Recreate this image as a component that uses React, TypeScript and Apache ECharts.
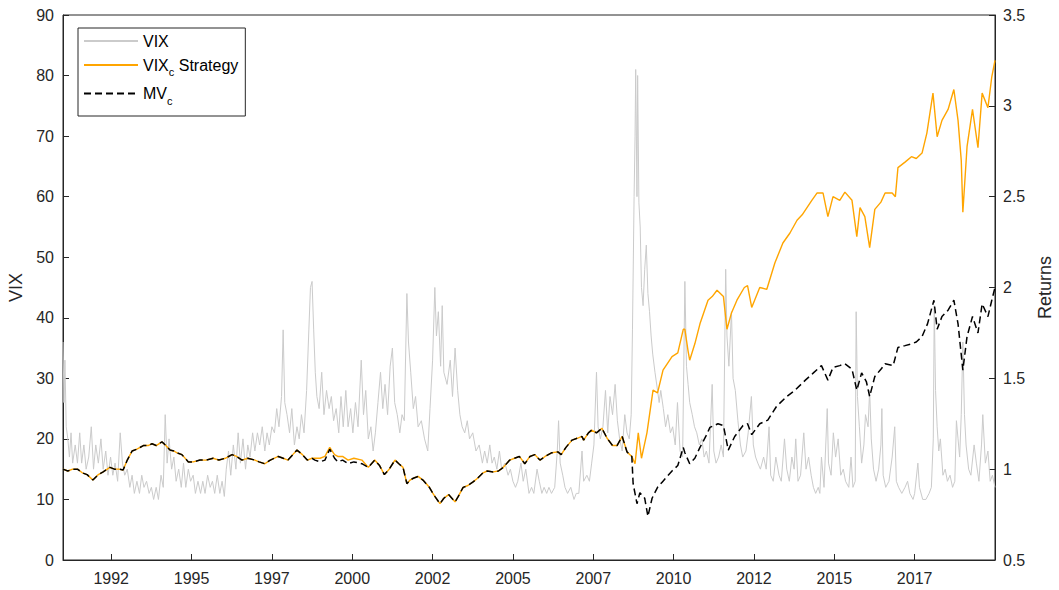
import React, { useEffect, useRef } from "react";
import * as echarts from "echarts";

// x tick positions (decimal years) and their labels
const xTickPositions = [1992.5, 1995, 1997.5, 2000, 2002.5, 2005, 2007.5, 2010, 2012.5, 2015, 2017.5];
const xTickLabels = ["1992", "1995", "1997", "2000", "2002", "2005", "2007", "2010", "2012", "2015", "2017"];

// VIX level [decimal year, value]
const vixSeries: [number, number][] = [
  [1991.0, 36], [1991.03, 26], [1991.06, 33], [1991.1, 22], [1991.15, 20], [1991.2, 17], [1991.25, 21], [1991.3, 16],
  [1991.38, 19], [1991.45, 16], [1991.52, 21], [1991.58, 16], [1991.65, 19], [1991.72, 15], [1991.8, 17], [1991.88, 22],
  [1991.95, 15], [1992.02, 19], [1992.1, 16], [1992.18, 20], [1992.25, 15], [1992.33, 18], [1992.4, 14], [1992.48, 17],
  [1992.55, 14], [1992.62, 16], [1992.7, 13], [1992.78, 21], [1992.85, 16], [1992.92, 14], [1993.0, 15], [1993.08, 12],
  [1993.15, 14], [1993.22, 11], [1993.3, 13], [1993.38, 11], [1993.45, 14], [1993.52, 12], [1993.6, 13], [1993.68, 11],
  [1993.75, 12], [1993.82, 10], [1993.9, 12], [1993.97, 10], [1994.05, 14], [1994.12, 12], [1994.18, 24], [1994.24, 16],
  [1994.3, 20], [1994.38, 15], [1994.45, 17], [1994.52, 13], [1994.6, 15], [1994.68, 12], [1994.75, 16], [1994.82, 12],
  [1994.9, 15], [1994.97, 13], [1995.05, 14], [1995.12, 11], [1995.2, 13], [1995.28, 11], [1995.35, 13], [1995.42, 11],
  [1995.5, 14], [1995.58, 12], [1995.65, 13], [1995.72, 11], [1995.8, 14], [1995.88, 11], [1995.95, 13], [1996.02, 10.5],
  [1996.08, 15], [1996.15, 18], [1996.22, 14], [1996.3, 19], [1996.38, 15], [1996.45, 21], [1996.52, 16], [1996.6, 20],
  [1996.68, 15], [1996.75, 19], [1996.82, 17], [1996.9, 21], [1996.97, 18], [1997.05, 21], [1997.12, 19], [1997.2, 22],
  [1997.28, 18], [1997.35, 21], [1997.42, 19], [1997.5, 22], [1997.58, 21], [1997.65, 25], [1997.72, 22], [1997.8, 27],
  [1997.85, 38], [1997.9, 26], [1997.97, 24], [1998.05, 21], [1998.12, 25], [1998.2, 19], [1998.28, 22], [1998.35, 20],
  [1998.42, 24], [1998.5, 21], [1998.58, 28], [1998.65, 38], [1998.7, 45], [1998.75, 46], [1998.8, 38], [1998.85, 31],
  [1998.9, 27], [1998.97, 25], [1999.05, 31], [1999.12, 24], [1999.2, 28], [1999.28, 25], [1999.35, 27], [1999.42, 23],
  [1999.5, 25], [1999.58, 21], [1999.65, 27], [1999.72, 22], [1999.8, 28], [1999.87, 22], [1999.95, 25], [2000.02, 21],
  [2000.1, 26], [2000.18, 22], [2000.28, 33], [2000.35, 24], [2000.42, 28], [2000.5, 20], [2000.58, 22], [2000.65, 18],
  [2000.72, 21], [2000.8, 26], [2000.88, 31], [2000.95, 25], [2001.02, 29], [2001.1, 24], [2001.18, 32], [2001.25, 35],
  [2001.32, 26], [2001.4, 24], [2001.48, 21], [2001.55, 24], [2001.62, 23], [2001.7, 44], [2001.75, 36], [2001.82, 31],
  [2001.9, 25], [2001.97, 27], [2002.05, 22], [2002.15, 23], [2002.25, 20], [2002.35, 18], [2002.42, 25], [2002.5, 33],
  [2002.57, 45], [2002.62, 37], [2002.68, 41], [2002.75, 32], [2002.8, 42], [2002.85, 31], [2002.95, 29], [2003.05, 33],
  [2003.12, 27], [2003.2, 35], [2003.28, 28], [2003.35, 24], [2003.42, 22], [2003.5, 21], [2003.58, 23], [2003.65, 20],
  [2003.75, 21], [2003.85, 18], [2003.95, 19], [2004.05, 16], [2004.12, 18], [2004.2, 16], [2004.28, 19], [2004.35, 16],
  [2004.42, 17], [2004.5, 15], [2004.58, 18], [2004.65, 15], [2004.75, 16], [2004.85, 14], [2004.92, 15], [2005.0, 13],
  [2005.08, 12], [2005.15, 13], [2005.25, 16], [2005.32, 13], [2005.4, 15], [2005.5, 11], [2005.58, 12], [2005.65, 11],
  [2005.75, 15], [2005.82, 13], [2005.9, 11], [2005.97, 12], [2006.05, 11], [2006.12, 12], [2006.2, 11], [2006.3, 12],
  [2006.38, 18], [2006.42, 23], [2006.47, 16], [2006.55, 14], [2006.62, 12], [2006.7, 11], [2006.8, 12], [2006.9, 10],
  [2006.97, 11], [2007.05, 11], [2007.15, 18], [2007.2, 13], [2007.3, 14], [2007.38, 13], [2007.45, 16], [2007.52, 19],
  [2007.6, 31], [2007.65, 22], [2007.72, 20], [2007.8, 22], [2007.88, 28], [2007.95, 21], [2008.02, 27], [2008.1, 24],
  [2008.18, 29], [2008.25, 23], [2008.32, 20], [2008.4, 18], [2008.48, 24], [2008.55, 21], [2008.62, 20], [2008.68, 24],
  [2008.72, 38], [2008.77, 60], [2008.8, 70], [2008.82, 81], [2008.86, 60], [2008.88, 80], [2008.92, 59], [2008.96, 55],
  [2009.0, 45], [2009.05, 42], [2009.1, 48], [2009.15, 52], [2009.2, 44], [2009.25, 41], [2009.3, 37], [2009.35, 34],
  [2009.42, 31], [2009.5, 28], [2009.55, 26], [2009.6, 28], [2009.68, 25], [2009.75, 22], [2009.82, 24], [2009.9, 21],
  [2009.97, 22], [2010.05, 19], [2010.12, 26], [2010.2, 18], [2010.28, 17], [2010.35, 46], [2010.4, 32], [2010.45, 29],
  [2010.5, 26], [2010.58, 24], [2010.65, 22], [2010.72, 21], [2010.8, 19], [2010.88, 20], [2010.95, 17], [2011.02, 18],
  [2011.1, 16], [2011.2, 29], [2011.25, 18], [2011.32, 16], [2011.4, 17], [2011.48, 19], [2011.55, 17], [2011.62, 48],
  [2011.66, 37], [2011.72, 32], [2011.8, 41], [2011.85, 30], [2011.92, 28], [2012.0, 23], [2012.08, 19], [2012.15, 17],
  [2012.25, 18], [2012.32, 21], [2012.42, 27], [2012.48, 19], [2012.55, 17], [2012.62, 16], [2012.7, 15], [2012.8, 17],
  [2012.88, 15], [2012.97, 22], [2013.02, 14], [2013.1, 13], [2013.18, 17], [2013.28, 14], [2013.35, 13], [2013.45, 20],
  [2013.52, 15], [2013.6, 13], [2013.68, 17], [2013.75, 15], [2013.8, 20], [2013.87, 13], [2013.95, 14], [2014.05, 21],
  [2014.12, 15], [2014.2, 17], [2014.28, 14], [2014.35, 12], [2014.42, 11], [2014.5, 12], [2014.55, 11], [2014.6, 17],
  [2014.68, 12], [2014.78, 25], [2014.82, 16], [2014.9, 14], [2014.97, 21], [2015.04, 17], [2015.12, 20], [2015.2, 14],
  [2015.28, 15], [2015.35, 13], [2015.45, 12], [2015.52, 17], [2015.58, 12], [2015.65, 13], [2015.68, 41], [2015.72, 27],
  [2015.78, 22], [2015.85, 16], [2015.92, 19], [2015.97, 24], [2016.05, 22], [2016.1, 28], [2016.15, 20], [2016.22, 15],
  [2016.3, 13], [2016.38, 15], [2016.45, 19], [2016.48, 25], [2016.52, 14], [2016.6, 12], [2016.7, 13], [2016.8, 17],
  [2016.88, 22], [2016.93, 13], [2017.0, 12], [2017.1, 11], [2017.2, 12], [2017.28, 13], [2017.35, 11], [2017.45, 10],
  [2017.5, 11], [2017.6, 16], [2017.65, 12], [2017.75, 10], [2017.85, 10], [2017.95, 11], [2018.02, 12], [2018.08, 20],
  [2018.11, 42], [2018.15, 28], [2018.2, 22], [2018.25, 18], [2018.3, 20], [2018.38, 14], [2018.45, 15], [2018.52, 13],
  [2018.6, 14], [2018.68, 12], [2018.75, 13], [2018.8, 23], [2018.85, 20], [2018.9, 17], [2018.95, 24], [2019.0, 36],
  [2019.05, 24], [2019.1, 19], [2019.18, 15], [2019.25, 14], [2019.35, 19], [2019.42, 16], [2019.5, 13], [2019.58, 19],
  [2019.62, 24], [2019.7, 16], [2019.78, 18], [2019.85, 13], [2019.92, 14], [2020.0, 12],
];

// VIXc strategy cumulative return [decimal year, value]
const vixcStrategy: [number, number][] = [
  [1991.0, 1.0], [1991.15, 0.99], [1991.3, 1.0], [1991.45, 1.0], [1991.6, 0.98], [1991.75, 0.97], [1991.93, 0.94],
  [1992.1, 0.97], [1992.25, 0.985], [1992.46, 1.01], [1992.6, 1.0], [1992.75, 1.0], [1992.87, 0.995], [1993.0, 1.05],
  [1993.15, 1.1], [1993.3, 1.11], [1993.5, 1.13], [1993.65, 1.13], [1993.77, 1.14], [1993.9, 1.13], [1994.08, 1.15],
  [1994.2, 1.13], [1994.33, 1.105], [1994.45, 1.1], [1994.55, 1.09], [1994.7, 1.08], [1994.9, 1.04], [1995.05, 1.04],
  [1995.26, 1.05], [1995.45, 1.05], [1995.67, 1.06], [1995.85, 1.05], [1996.05, 1.06], [1996.26, 1.08], [1996.4, 1.07],
  [1996.57, 1.05], [1996.75, 1.06], [1996.97, 1.05], [1997.1, 1.04], [1997.28, 1.03], [1997.45, 1.05], [1997.7, 1.07],
  [1997.85, 1.06], [1998.0, 1.05], [1998.15, 1.08], [1998.28, 1.105], [1998.45, 1.08], [1998.6, 1.05], [1998.75, 1.06],
  [1998.84, 1.06], [1999.0, 1.06], [1999.15, 1.07], [1999.3, 1.12], [1999.45, 1.08], [1999.55, 1.07], [1999.7, 1.07],
  [1999.87, 1.05], [2000.05, 1.06], [2000.3, 1.05], [2000.5, 1.01], [2000.7, 1.05], [2000.85, 1.02], [2001.0, 0.97],
  [2001.15, 1.0], [2001.33, 1.05], [2001.45, 1.03], [2001.58, 1.01], [2001.7, 0.92], [2001.8, 0.94], [2001.9, 0.95],
  [2002.05, 0.96], [2002.2, 0.94], [2002.4, 0.9], [2002.5, 0.87], [2002.57, 0.85], [2002.65, 0.83], [2002.73, 0.81],
  [2002.85, 0.84], [2003.0, 0.86], [2003.1, 0.84], [2003.2, 0.82], [2003.3, 0.85], [2003.45, 0.9], [2003.6, 0.91],
  [2003.76, 0.93], [2003.9, 0.95], [2004.07, 0.98], [2004.2, 0.99], [2004.38, 0.985], [2004.55, 0.99], [2004.7, 1.01],
  [2004.9, 1.05], [2005.05, 1.06], [2005.2, 1.07], [2005.37, 1.03], [2005.53, 1.07], [2005.68, 1.08], [2005.84, 1.05],
  [2006.0, 1.07], [2006.2, 1.09], [2006.4, 1.095], [2006.5, 1.08], [2006.65, 1.12], [2006.84, 1.16], [2007.0, 1.17],
  [2007.15, 1.18], [2007.2, 1.16], [2007.35, 1.2], [2007.45, 1.215], [2007.6, 1.2], [2007.77, 1.225], [2007.93, 1.17],
  [2008.1, 1.13], [2008.24, 1.13], [2008.4, 1.18], [2008.55, 1.095], [2008.7, 1.07], [2008.8, 1.03], [2008.9, 1.2],
  [2009.0, 1.06], [2009.17, 1.2], [2009.36, 1.435], [2009.5, 1.42], [2009.67, 1.545], [2009.8, 1.58], [2009.95, 1.62],
  [2010.13, 1.64], [2010.3, 1.77], [2010.35, 1.77], [2010.45, 1.65], [2010.5, 1.6], [2010.66, 1.69], [2010.82, 1.8],
  [2011.07, 1.93], [2011.2, 1.95], [2011.35, 1.985], [2011.55, 1.95], [2011.66, 1.77], [2011.8, 1.86], [2011.97, 1.93],
  [2012.2, 2.0], [2012.3, 2.01], [2012.43, 1.89], [2012.68, 2.0], [2012.9, 1.99], [2013.15, 2.135], [2013.4, 2.245],
  [2013.62, 2.3], [2013.84, 2.37], [2014.0, 2.4], [2014.15, 2.44], [2014.3, 2.48], [2014.46, 2.52], [2014.65, 2.52],
  [2014.8, 2.39], [2014.96, 2.5], [2015.17, 2.48], [2015.33, 2.525], [2015.55, 2.48], [2015.7, 2.28], [2015.8, 2.44],
  [2015.95, 2.39], [2016.1, 2.22], [2016.26, 2.43], [2016.45, 2.47], [2016.58, 2.52], [2016.8, 2.52], [2016.9, 2.5],
  [2016.98, 2.66], [2017.2, 2.69], [2017.4, 2.72], [2017.55, 2.71], [2017.73, 2.74], [2017.88, 2.85], [2018.07, 3.07],
  [2018.2, 2.83], [2018.35, 2.92], [2018.54, 2.98], [2018.72, 3.09], [2018.85, 2.92], [2018.95, 2.7], [2019.0, 2.415],
  [2019.13, 2.775], [2019.3, 2.98], [2019.47, 2.77], [2019.6, 3.07], [2019.78, 2.99], [2019.9, 3.16], [2020.0, 3.25],
];

// MVc cumulative return [decimal year, value]
const mvcStrategy: [number, number][] = [
  [1991.0, 1.0], [1991.15, 0.99], [1991.3, 1.0], [1991.45, 1.0], [1991.6, 0.98], [1991.75, 0.97], [1991.93, 0.94],
  [1992.1, 0.97], [1992.25, 0.985], [1992.46, 1.01], [1992.6, 1.0], [1992.75, 1.0], [1992.87, 0.995], [1993.0, 1.05],
  [1993.15, 1.1], [1993.3, 1.11], [1993.5, 1.13], [1993.65, 1.13], [1993.77, 1.14], [1993.9, 1.13], [1994.08, 1.15],
  [1994.2, 1.13], [1994.33, 1.105], [1994.45, 1.1], [1994.55, 1.09], [1994.7, 1.08], [1994.9, 1.04], [1995.05, 1.04],
  [1995.26, 1.05], [1995.45, 1.05], [1995.67, 1.06], [1995.85, 1.05], [1996.05, 1.06], [1996.26, 1.08], [1996.4, 1.07],
  [1996.57, 1.05], [1996.75, 1.06], [1996.97, 1.05], [1997.1, 1.04], [1997.28, 1.03], [1997.45, 1.05], [1997.7, 1.07],
  [1997.85, 1.06], [1998.0, 1.05], [1998.15, 1.08], [1998.28, 1.105], [1998.45, 1.08], [1998.6, 1.05], [1998.75, 1.06],
  [1998.84, 1.05], [1999.0, 1.04], [1999.15, 1.05], [1999.3, 1.11], [1999.45, 1.06], [1999.55, 1.04], [1999.7, 1.05],
  [1999.87, 1.03], [2000.05, 1.04], [2000.3, 1.03], [2000.5, 1.01], [2000.7, 1.05], [2000.85, 1.02], [2001.0, 0.97],
  [2001.15, 1.0], [2001.33, 1.05], [2001.45, 1.03], [2001.58, 1.01], [2001.7, 0.92], [2001.8, 0.94], [2001.9, 0.95],
  [2002.05, 0.96], [2002.2, 0.94], [2002.4, 0.9], [2002.5, 0.87], [2002.57, 0.85], [2002.65, 0.83], [2002.73, 0.81],
  [2002.85, 0.84], [2003.0, 0.86], [2003.1, 0.84], [2003.2, 0.82], [2003.3, 0.85], [2003.45, 0.9], [2003.6, 0.91],
  [2003.76, 0.93], [2003.9, 0.95], [2004.07, 0.98], [2004.2, 0.99], [2004.38, 0.985], [2004.55, 0.99], [2004.7, 1.01],
  [2004.9, 1.05], [2005.05, 1.06], [2005.2, 1.07], [2005.37, 1.03], [2005.53, 1.07], [2005.68, 1.08], [2005.84, 1.05],
  [2006.0, 1.07], [2006.2, 1.09], [2006.4, 1.095], [2006.5, 1.08], [2006.65, 1.12], [2006.84, 1.16], [2007.0, 1.17],
  [2007.15, 1.18], [2007.2, 1.16], [2007.35, 1.2], [2007.45, 1.215], [2007.6, 1.2], [2007.77, 1.225], [2007.93, 1.17],
  [2008.1, 1.13], [2008.24, 1.13], [2008.4, 1.18], [2008.55, 1.095], [2008.7, 1.07], [2008.74, 0.92], [2008.86, 0.81],
  [2008.95, 0.87], [2009.1, 0.84], [2009.2, 0.74], [2009.33, 0.84], [2009.5, 0.9], [2009.65, 0.93], [2009.8, 0.96],
  [2009.95, 0.99], [2010.13, 1.02], [2010.3, 1.12], [2010.35, 1.09], [2010.5, 1.03], [2010.66, 1.06], [2010.82, 1.12],
  [2011.0, 1.18], [2011.13, 1.23], [2011.38, 1.25], [2011.55, 1.24], [2011.7, 1.105], [2011.9, 1.18], [2012.16, 1.24],
  [2012.3, 1.25], [2012.43, 1.19], [2012.68, 1.25], [2012.93, 1.27], [2013.2, 1.345], [2013.52, 1.4], [2013.78, 1.435],
  [2014.1, 1.49], [2014.35, 1.53], [2014.6, 1.57], [2014.8, 1.49], [2014.96, 1.56], [2015.17, 1.57], [2015.33, 1.58],
  [2015.55, 1.55], [2015.7, 1.435], [2015.85, 1.53], [2016.0, 1.48], [2016.1, 1.4], [2016.26, 1.51], [2016.45, 1.55],
  [2016.58, 1.58], [2016.83, 1.57], [2016.98, 1.67], [2017.2, 1.68], [2017.4, 1.69], [2017.55, 1.7], [2017.73, 1.73],
  [2017.9, 1.8], [2018.1, 1.93], [2018.2, 1.77], [2018.35, 1.84], [2018.54, 1.875], [2018.72, 1.93], [2018.85, 1.8],
  [2019.0, 1.545], [2019.13, 1.73], [2019.3, 1.84], [2019.47, 1.75], [2019.6, 1.91], [2019.78, 1.84], [2019.9, 1.93],
  [2020.0, 2.0],
];

const FONT = "'Liberation Sans', Arial, Helvetica, sans-serif";
const AXIS_COLOR = "#262626";

export default function App() {
  const ref = useRef<HTMLDivElement | null>(null);

  useEffect(() => {
    if (!ref.current) return;
    const chart = echarts.init(ref.current, null, { renderer: "svg" });
    const legendFormatter = (name: string) => {
      if (name === "VIXc Strategy") return "{n|VIX}{s|c}{n| Strategy}";
      if (name === "MVc") return "{n|MV}{s|c}";
      return "{n|" + name + "}";
    };
    chart.setOption({
      animation: false,
      backgroundColor: "#ffffff",
      textStyle: { fontFamily: FONT },
      grid: {
        left: 63,
        right: 64,
        top: 15,
        bottom: 30,
        containLabel: false,
        outerBoundsMode: "none",
        show: true,
        borderColor: AXIS_COLOR,
        borderWidth: 1,
        backgroundColor: "transparent",
      },
      legend: {
        orient: "vertical",
        left: 78,
        top: 28,
        padding: [5, 7, 10, 5],
        itemWidth: 54,
        itemHeight: 12,
        itemGap: 8,
        borderColor: AXIS_COLOR,
        borderWidth: 1,
        backgroundColor: "#ffffff",
        itemStyle: { opacity: 0 },
        formatter: legendFormatter,
        textStyle: {
          fontFamily: FONT,
          color: "#000",
          rich: {
            n: { fontSize: 16, fontFamily: FONT, color: "#000" },
            s: { fontSize: 11, fontFamily: FONT, color: "#000", padding: [14, 0, 0, 0] },
          },
        },
        data: ["VIX", "VIXc Strategy", "MVc"],
      },
      xAxis: {
        type: "value",
        min: 1991,
        max: 2020,
        axisLine: { show: true, lineStyle: { color: AXIS_COLOR } },
        axisTick: {
          show: true,
          inside: true,
          length: 6,
          customValues: xTickPositions,
          lineStyle: { color: AXIS_COLOR },
        },
        axisLabel: {
          customValues: xTickPositions,
          margin: 10,
          fontSize: 16,
          color: AXIS_COLOR,
          fontFamily: FONT,
          formatter: (v: number) => {
            const i = xTickPositions.findIndex((p) => Math.abs(p - v) < 1e-6);
            return i >= 0 ? xTickLabels[i] : "";
          },
        },
        splitLine: { show: false },
      },
      yAxis: [
        {
          type: "value",
          position: "left",
          min: 0,
          max: 90,
          interval: 10,
          name: "VIX",
          nameLocation: "middle",
          nameGap: 36,
          nameTextStyle: { fontSize: 18, color: AXIS_COLOR, fontFamily: FONT },
          axisLine: { show: true, lineStyle: { color: AXIS_COLOR } },
          axisTick: { show: true, inside: true, length: 6, lineStyle: { color: AXIS_COLOR } },
          axisLabel: { margin: 9, fontSize: 16, color: AXIS_COLOR, fontFamily: FONT },
          splitLine: { show: false },
        },
        {
          type: "value",
          position: "right",
          min: 0.5,
          max: 3.5,
          interval: 0.5,
          name: "Returns",
          nameLocation: "middle",
          nameRotate: 90,
          nameGap: 41,
          nameTextStyle: { fontSize: 18, color: AXIS_COLOR, fontFamily: FONT },
          axisLine: { show: true, lineStyle: { color: AXIS_COLOR } },
          axisTick: { show: true, inside: true, length: 6, lineStyle: { color: AXIS_COLOR } },
          axisLabel: { margin: 8, fontSize: 16, color: AXIS_COLOR, fontFamily: FONT },
          splitLine: { show: false },
        },
      ],
      series: [
        {
          name: "VIX",
          type: "line",
          yAxisIndex: 0,
          data: vixSeries,
          symbol: "none",
          lineStyle: { color: "#cbcbcb", width: 1 },
          itemStyle: { color: "#cbcbcb" },
        },
        {
          name: "VIXc Strategy",
          type: "line",
          yAxisIndex: 1,
          data: vixcStrategy,
          symbol: "none",
          lineStyle: { color: "#ffa500", width: 1.4 },
          itemStyle: { color: "#ffa500" },
        },
        {
          name: "MVc",
          type: "line",
          yAxisIndex: 1,
          data: mvcStrategy,
          symbol: "none",
          lineStyle: { color: "#000000", width: 1.5, type: [7, 4] },
          itemStyle: { color: "#000000" },
        },
      ],
    });
    return () => chart.dispose();
  }, []);

  return (
    <div
      ref={ref}
      style={{ position: "fixed", left: 0, top: 0, width: 1059, height: 590, background: "#fff" }}
    />
  );
}
